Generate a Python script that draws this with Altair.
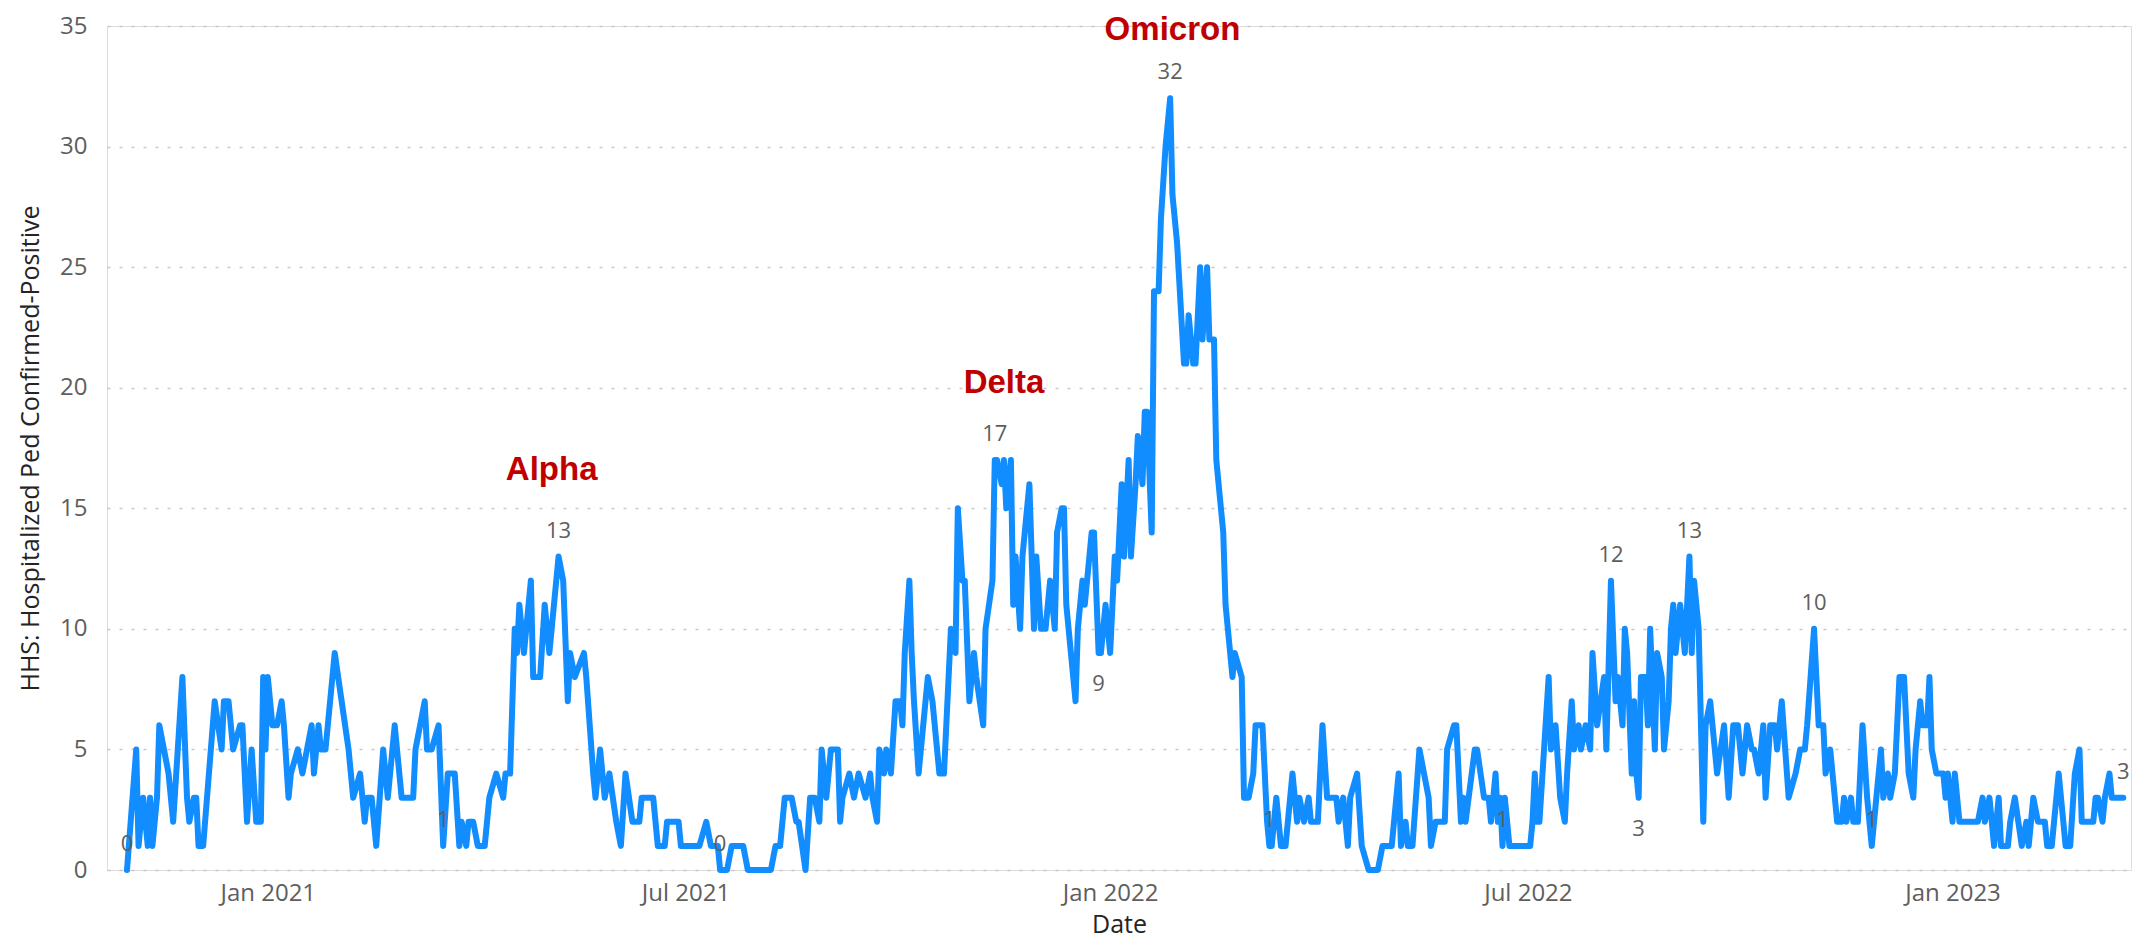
import altair as alt
import pandas as pd

START = "2020-11-01"

# day offset from START and daily count (vertices)
day_offsets = [
    0, 4, 5, 7, 9, 10, 11, 13, 14, 16, 18, 20, 22, 24, 26, 27, 29, 30, 31, 33,
    38, 41, 42, 44, 46, 49, 50, 52, 54, 56, 58, 59, 60, 61, 63, 65, 67, 68, 70, 71,
    74, 76, 78, 80, 81, 83, 84, 86, 90, 93, 96, 98, 101, 103, 104, 106, 108, 111, 113, 116,
    118, 119, 124, 125, 129, 130, 132, 135, 137, 139, 142, 144, 145, 147, 148, 150, 152, 155, 157, 160,
    163, 164, 166, 168, 169, 170, 172, 175, 176, 179, 181, 183, 184, 187, 189, 191, 192, 194, 198, 199,
    202, 203, 205, 207, 209, 212, 214, 216, 219, 222, 223, 228, 230, 233, 234, 239, 240, 248, 251, 253,
    256, 257, 260, 262, 267, 269, 279, 281, 283, 285, 288, 290, 291, 294, 296, 298, 300, 301, 303, 305,
    308, 309, 310, 313, 315, 317, 320, 322, 323, 325, 326, 328, 329, 331, 333, 335, 336, 337, 339, 340,
    341, 343, 345, 347, 349, 352, 354, 355, 357, 359, 360, 362, 363, 365, 367, 368, 371, 372, 375, 376,
    377, 379, 380, 381, 383, 384, 385, 387, 388, 391, 393, 394, 396, 398, 400, 402, 403, 405, 406, 407,
    411, 412, 414, 415, 418, 419, 421, 422, 424, 426, 428, 429, 431, 432, 434, 435, 437, 438, 440, 441,
    442, 444, 445, 447, 448, 450, 452, 453, 455, 458, 459, 460, 462, 463, 465, 466, 468, 469, 471, 472,
    473, 475, 476, 479, 480, 483, 484, 486, 488, 489, 492, 494, 495, 496, 498, 500, 502, 504, 505, 507,
    508, 510, 512, 513, 516, 518, 520, 524, 525, 527, 529, 530, 533, 535, 538, 542, 544, 548, 549, 551,
    552, 554, 555, 557, 560, 562, 564, 565, 567, 571, 572, 575, 576, 578, 579, 580, 584, 585, 588, 590,
    591, 593, 594, 595, 596, 597, 599, 608, 609, 610, 611, 612, 616, 617, 619, 621, 623, 624, 626, 627,
    629, 630, 632, 634, 635, 637, 640, 641, 643, 645, 646, 648, 649, 650, 652, 653, 654, 655, 656, 658,
    659, 660, 662, 663, 665, 666, 668, 669, 670, 671, 673, 675, 677, 678, 679, 681, 683, 684, 686, 689,
    692, 694, 696, 698, 700, 702, 704, 705, 707, 709, 710, 712, 714, 715, 717, 720, 723, 725, 727, 728,
    731, 733, 735, 736, 738, 741, 743, 744, 745, 747, 748, 750, 752, 754, 756, 758, 760, 761, 763, 764,
    766, 768, 770, 772, 774, 775, 777, 778, 780, 781, 782, 784, 787, 788, 789, 790, 791, 792, 794, 802,
    804, 805, 807, 808, 809, 811, 812, 815, 816, 818, 821, 823, 824, 826, 828, 831, 832, 834, 837, 839,
    840, 842, 844, 846, 847, 852, 853, 854, 856, 857, 859, 860, 865,
]
counts = [
    0, 5, 1, 3, 1, 3, 1, 3, 6, 5, 4, 2, 5, 8, 3, 2, 3, 3, 1, 1,
    7, 5, 7, 7, 5, 6, 6, 2, 5, 2, 2, 8, 5, 8, 6, 6, 7, 6, 3, 4,
    5, 4, 5, 6, 4, 6, 5, 5, 9, 7, 5, 3, 4, 2, 3, 3, 1, 5, 3, 6,
    4, 3, 3, 5, 7, 5, 5, 6, 1, 4, 4, 1, 2, 1, 2, 2, 1, 1, 3, 4,
    3, 4, 4, 10, 9, 11, 9, 12, 8, 8, 11, 9, 10, 13, 12, 7, 9, 8, 9, 8,
    4, 3, 5, 3, 4, 2, 1, 4, 2, 2, 3, 3, 1, 1, 2, 2, 1, 1, 2, 1,
    1, 0, 0, 1, 1, 0, 0, 1, 1, 3, 3, 2, 2, 0, 3, 3, 2, 5, 3, 5,
    5, 2, 3, 4, 3, 4, 3, 4, 3, 2, 5, 4, 5, 4, 7, 7, 6, 9, 12, 9,
    7, 4, 6, 8, 7, 4, 4, 6, 10, 9, 15, 12, 12, 7, 9, 8, 6, 10, 12, 17,
    17, 16, 17, 15, 17, 11, 13, 10, 13, 16, 10, 13, 10, 10, 12, 10, 14, 15, 15, 11,
    7, 10, 12, 11, 14, 14, 9, 9, 11, 9, 13, 12, 16, 13, 17, 13, 16, 18, 16, 19,
    19, 14, 24, 24, 27, 30, 32, 28, 26, 21, 21, 23, 21, 21, 25, 22, 25, 22, 22, 17,
    16, 14, 11, 8, 9, 8, 3, 3, 4, 6, 6, 2, 1, 1, 3, 1, 1, 3, 4, 2,
    3, 2, 3, 2, 2, 6, 3, 3, 2, 3, 1, 3, 4, 1, 0, 0, 1, 1, 2, 4,
    1, 2, 1, 1, 5, 4, 3, 1, 2, 2, 5, 6, 6, 2, 3, 2, 5, 5, 3, 3,
    2, 4, 2, 3, 1, 3, 1, 1, 2, 4, 2, 2, 8, 5, 6, 3, 2, 4, 7, 5,
    6, 5, 6, 5, 9, 6, 8, 5, 12, 7, 8, 6, 10, 9, 4, 7, 4, 3, 8, 8,
    6, 10, 5, 9, 8, 5, 7, 10, 11, 9, 11, 9, 13, 9, 12, 10, 2, 6, 7, 4,
    6, 3, 6, 6, 4, 6, 5, 5, 4, 6, 3, 6, 6, 5, 7, 3, 4, 5, 5, 6,
    10, 6, 6, 4, 5, 2, 2, 3, 2, 3, 2, 2, 6, 3, 1, 3, 5, 3, 4, 3,
    4, 8, 8, 4, 3, 5, 7, 6, 6, 8, 5, 4, 4, 3, 4, 3, 2, 4, 2, 2,
    3, 2, 3, 2, 1, 3, 1, 1, 2, 3, 1, 2, 1, 3, 2, 2, 1, 1, 4, 2,
    1, 1, 4, 5, 2, 2, 3, 3, 2, 3, 4, 3, 3,
]

# points that carry a data label, and which of them are labelled below
label_days = [0, 137, 187, 257, 376, 421, 452, 495, 596, 643, 655, 677, 731, 756, 865]
label_below_days = [421, 655]

# variant annotations
variant_names = ["Alpha", "Delta", "Omicron"]
variant_days = [184, 380, 453]
variant_levels = [16.6, 20.2, 34.85]

y_ticks = [0, 5, 10, 15, 20, 25, 30, 35]
x_ticks = [(2021, 1), (2021, 7), (2022, 1), (2022, 7), (2023, 1)]

base = pd.Timestamp(START)


def to_date(d):
    return (base + pd.Timedelta(days=d)).strftime("%Y-%m-%d")


df = pd.DataFrame({"date": [to_date(d) for d in day_offsets], "value": counts})
lookup = dict(zip(day_offsets, counts))
labels = pd.DataFrame({
    "date": [to_date(d) for d in label_days],
    "value": [lookup[d] for d in label_days],
    "pos": ["below" if d in label_below_days else "above" for d in label_days],
})
variants = pd.DataFrame({
    "date": [to_date(d) for d in variant_days],
    "value": variant_levels,
    "name": variant_names,
})

FONT = "Open Sans"

x_scale = alt.Scale(
    type="utc",
    domain=[alt.DateTime(year=2020, month=10, date=23, hours=8, utc=True),
            alt.DateTime(year=2023, month=3, date=19, hours=8, utc=True)],
)
y_scale = alt.Scale(domain=[0, 35], nice=False, zero=True)

x_axis = alt.Axis(
    values=[alt.DateTime(year=y, month=m, date=1, utc=True) for y, m in x_ticks],
    labelExpr="utcFormat(datum.value, '%b %Y')",
    title="Date", titleFontSize=25, titleColor="#252423", titleFontWeight="normal",
    titleFont=FONT, titlePadding=7,
    labelFontSize=24, labelColor="#605E5C", labelFont=FONT, labelPadding=11,
    ticks=False, domain=False, grid=False,
)
y_axis = alt.Axis(
    values=y_ticks,
    title="HHS: Hospitalized Ped Confirmed-Positive", titleFontSize=25,
    titleColor="#252423", titleFontWeight="normal", titleFont=FONT, titlePadding=16,
    labelFontSize=24, labelColor="#605E5C", labelFont=FONT, labelPadding=20,
    ticks=False, domain=False,
    grid=True, gridColor="#C8C8C8", gridDash=[3, 9], gridWidth=1.5,
)

line = alt.Chart(df).mark_line(
    color="#118DFF", strokeWidth=6, strokeJoin="round", strokeCap="round"
).encode(
    x=alt.X("date:T", scale=x_scale, axis=x_axis),
    y=alt.Y("value:Q", scale=y_scale, axis=y_axis),
)

lab_above = alt.Chart(labels).transform_filter(alt.datum.pos == "above").mark_text(
    font=FONT, fontSize=22, color="#605E5C", dy=-26, baseline="middle"
).encode(x="date:T", y="value:Q", text="value:Q")

lab_below = alt.Chart(labels).transform_filter(alt.datum.pos == "below").mark_text(
    font=FONT, fontSize=22, color="#605E5C", dy=31, baseline="middle"
).encode(x="date:T", y="value:Q", text="value:Q")

var_text = alt.Chart(variants).mark_text(
    font="Liberation Sans", fontSize=33, fontWeight="bold", color="#C00000",
    baseline="middle", align="center"
).encode(x="date:T", y="value:Q", text="name:N")

chart = alt.layer(line, lab_above, lab_below, var_text).properties(
    width=2024, height=844,
    autosize=alt.AutoSizeParams(type="none"),
    padding={"left": 99, "top": 18, "right": 4, "bottom": 69},
).configure_view(stroke=None).configure(font=FONT)

chart.save("out.html", embed_options={"renderer": "svg", "actions": False})
